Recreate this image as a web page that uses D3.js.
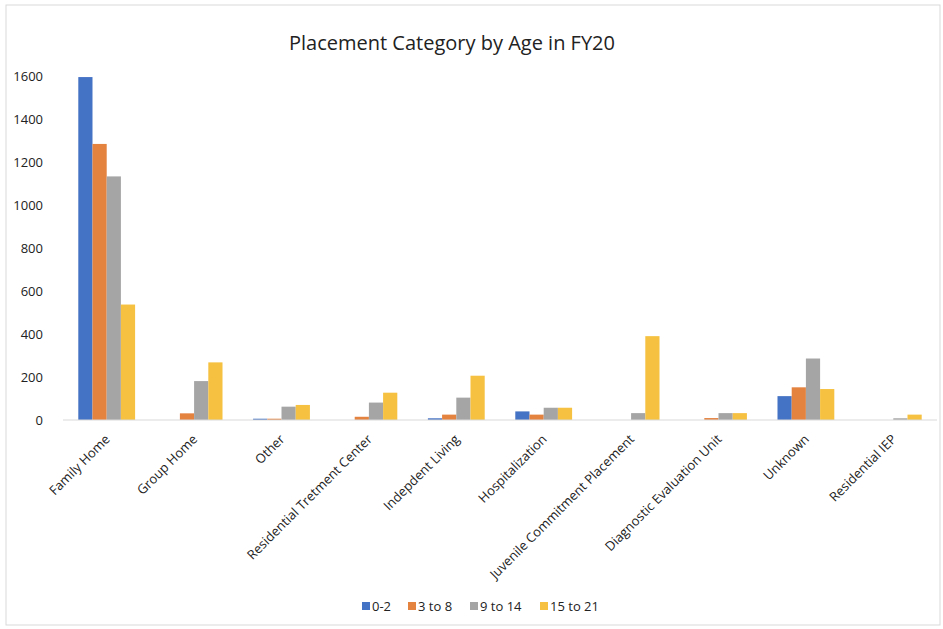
<!DOCTYPE html>
<meta charset="utf-8">
<style>
    body { margin: 0; background: #fff; }
    text { font-family: "Open Sans", "Liberation Sans", sans-serif; fill: #404040; }
    .axis path, .axis line { stroke: #d9d9d9; }
</style>
<svg width="943" height="629"></svg>
<script src="https://d3js.org/d3.v7.min.js"></script>
<script>
    const categories = ["Family Home", "Group Home", "Other", "Residential Tretment Center",
        "Indepdent Living", "Hospitalization", "Juvenile Commitment Placement",
        "Diagnostic Evaluation Unit", "Unknown", "Residential IEP"];
    const seriesNames = ["0-2", "3 to 8", "9 to 14", "15 to 21"];
    const age0to2 = [1595, 0, 6, 0, 8, 40, 0, 0, 111, 0];
    const age3to8 = [1284, 31, 6, 15, 25, 25, 0, 9, 152, 0];
    const age9to14 = [1133, 181, 62, 81, 104, 57, 32, 32, 286, 8];
    const age15to21 = [537, 268, 70, 127, 206, 57, 390, 32, 144, 25];
    const yTicks = [0, 200, 400, 600, 800, 1000, 1200, 1400, 1600];
    const colors = ["#4472c4", "#e4823f", "#a5a5a5", "#f6c141"];

    const series = [age0to2, age3to8, age9to14, age15to21];

    var svg = d3.select("svg");

    // outer frame
    svg.append("rect")
        .attr("x", 6).attr("y", 5).attr("width", 934).attr("height", 620)
        .attr("fill", "none").attr("stroke", "#d9d9d9");

    svg.append("text")
        .attr("x", 452).attr("y", 50)
        .attr("text-anchor", "middle")
        .style("font-size", "20px")
        .style("fill", "#222")
        .text("Placement Category by Age in FY20");

    var plotLeft = 63, plotRight = 937, plotTop = 76, plotBottom = 420;

    var x0 = d3.scaleBand().domain(categories).range([plotLeft, plotRight]).paddingInner(0.35).paddingOuter(0.175);
    var x1 = d3.scaleBand().domain(seriesNames).range([0, x0.bandwidth()]);
    var y = d3.scaleLinear().domain([0, 1600]).range([plotBottom, plotTop]);

    // y axis labels, no line
    var yAxis = svg.append("g")
        .attr("transform", "translate(" + plotLeft + ",0)")
        .call(d3.axisLeft(y).tickValues(yTicks).tickFormat(d3.format("d")).tickSize(0).tickPadding(20));
    yAxis.select(".domain").remove();
    yAxis.selectAll("text").style("font-size", "13px").style("fill", "#222");

    var groups = svg.selectAll(".cat")
        .data(categories)
        .enter().append("g")
        .attr("class", "cat")
        .attr("transform", d => "translate(" + x0(d) + ",0)");

    groups.selectAll("rect")
        .data((d, i) => series.map((s, k) => ({ name: seriesNames[k], value: s[i], k: k })))
        .enter().append("rect")
        .attr("x", d => x1(d.name))
        .attr("width", x1.bandwidth())
        .attr("y", d => y(d.value))
        .attr("height", d => plotBottom - y(d.value))
        .attr("fill", d => colors[d.k]);

    // x axis baseline + rotated labels
    var xAxis = svg.append("g")
        .attr("class", "axis")
        .attr("transform", "translate(0," + plotBottom + ")")
        .call(d3.axisBottom(x0).tickSize(0).tickSizeOuter(0).tickPadding(0));
    xAxis.select(".domain").attr("d", "M" + plotLeft + ",0H" + plotRight);
    xAxis.selectAll(".tick text")
        .style("font-size", "13px")
        .style("fill", "#222")
        .attr("text-anchor", "end")
        .attr("dy", 0)
        .attr("transform", "translate(4,20) rotate(-45)");

    // legend
    var legendX = [362, 408, 470, 540];
    var legend = svg.selectAll(".legend")
        .data(seriesNames)
        .enter().append("g")
        .attr("class", "legend")
        .attr("transform", (d, i) => "translate(" + legendX[i] + ",602)");
    legend.append("rect")
        .attr("width", 8).attr("height", 8)
        .attr("fill", (d, i) => colors[i]);
    legend.append("text")
        .attr("x", 10).attr("y", 9)
        .style("font-size", "13px")
        .style("fill", "#222")
        .text(d => d);
</script>
